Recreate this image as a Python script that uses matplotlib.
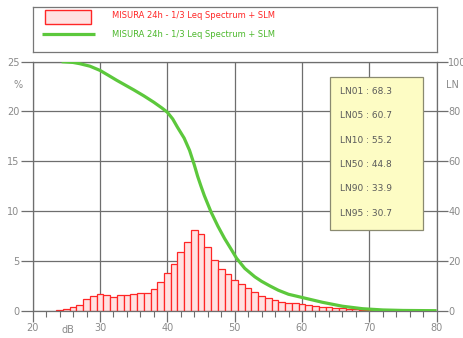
import matplotlib
matplotlib.use("Agg")
import matplotlib.pyplot as plt
from matplotlib.patches import Rectangle

# 1 dB level classes and share of time (%) spent in each class
levels = list(range(24, 75))
pct = [0.1, 0.2, 0.35, 0.6, 1.2, 1.5,
       1.63, 1.57, 1.4, 1.57, 1.57, 1.63, 1.8, 1.73,
       2.2, 2.9, 3.8, 4.7, 5.9, 6.9, 8.07, 7.73, 6.4, 5.07,
       4.2, 3.7, 3.1, 2.65, 2.3, 1.85, 1.5, 1.25, 1.05,
       0.9, 0.8, 0.73, 0.63, 0.57, 0.5, 0.4, 0.33,
       0.3, 0.25, 0.2, 0.15, 0.1, 0.08, 0.06, 0.05, 0.04, 0.03]

# exceedance curve LN (% of time above level)
ln_db = [24.3, 26.0, 27.0, 28.5, 30.0, 31.2, 32.5, 35.0, 36.5, 38.0, 39.2,
         40.0, 40.8, 41.5, 42.5, 43.3, 44.0, 44.5, 45.0, 45.5, 46.5, 47.5,
         48.5, 49.5, 50.3, 51.5, 53.0, 54.0, 55.2, 56.5, 58.0, 60.5,
         63.0, 66.0, 69.0, 72.0, 75.0, 80.0]
ln_pct = [100.0, 99.7, 99.2, 98.2, 96.5, 94.6, 92.5, 88.7, 86.3, 83.7, 81.4,
          79.7, 77.0, 73.7, 69.3, 64.4, 58.6, 54.0, 50.0, 46.2, 39.6, 34.0,
          29.0, 24.6, 21.0, 17.0, 13.6, 11.8, 10.0, 8.2, 6.6, 5.0,
          3.4, 1.8, 0.8, 0.3, 0.1, 0.0]

ln_names = ["LN01", "LN05", "LN10", "LN50", "LN90", "LN95"]
ln_values = [68.3, 60.7, 55.2, 44.8, 33.9, 30.7]

legend_label = "MISURA 24h - 1/3 Leq Spectrum + SLM"

W, H = 463, 338
grid_c = "#6e6e6e"
lab_c = "#8a8a8a"
red = "#ff2626"
green = "#5cc83c"

fig = plt.figure(figsize=(W / 100, H / 100), dpi=100)
fig.patch.set_facecolor("white")
plt.rcParams["font.family"] = ["DejaVu Sans"]

x0, x1, y0, y1 = 32.7, 436.6, 61.7, 310.7
ax = fig.add_axes([x0 / W, 1 - y1 / H, (x1 - x0) / W, (y1 - y0) / H])
ax.set_xlim(20, 80)
ax.set_ylim(0, 25)
ax.set_xticks(range(20, 81, 10))
ax.set_xticks(range(22, 80, 2), minor=True)
ax.set_yticks(range(0, 26, 5))
ax.grid(True, which="major", color=grid_c, lw=0.9)
ax.set_axisbelow(True)
for s in ax.spines.values():
    s.set_color(grid_c)
    s.set_linewidth(0.9)
ax.tick_params(axis="y", which="major", direction="out", length=9, width=0.9,
               color=grid_c, labelcolor=lab_c, labelsize=7, pad=0.5)
ax.tick_params(axis="x", which="major", direction="out", length=8, width=0.9,
               color=grid_c, labelcolor=lab_c, labelsize=7, pad=1)
ax.tick_params(axis="x", which="minor", direction="out", length=4, width=0.8,
               color=grid_c)

ax.bar(levels, pct, width=1.0, color="#ffe2e2", edgecolor=red, lw=0.9, zorder=2)

ax2 = ax.twinx()
ax2.set_ylim(0, 100)
ax2.set_yticks(range(0, 101, 20))
ax2.tick_params(axis="y", direction="out", length=8, width=0.9, color=grid_c,
                labelcolor=lab_c, labelsize=7, pad=0.5)
for s in ax2.spines.values():
    s.set_visible(False)
ax2.plot(ln_db, ln_pct, color=green, lw=2.3, solid_capstyle="butt",
         solid_joinstyle="round", zorder=3)

# statistics box
ax.add_patch(Rectangle((64.1, 8.1), 13.95, 15.4, facecolor="#fdfcc4",
                       edgecolor="#8a8a70", lw=0.9, zorder=4))
for i, (name, val) in enumerate(zip(ln_names, ln_values)):
    ax.text(65.6, 22.0 - i * 2.44, f"{name} : {val}", fontsize=6.5,
            color="#5a5a5a", va="center", ha="left", zorder=5)

# axis unit labels
fig.text(18 / W, 1 - 85 / H, "%", fontsize=7, color=lab_c, ha="center", va="center")
fig.text(452 / W, 1 - 85 / H, "LN", fontsize=7, color=lab_c, ha="center", va="center")
fig.text(68 / W, 1 - 330 / H, "dB", fontsize=7, color=lab_c, ha="center", va="center")

# legend panel
lax = fig.add_axes([33 / W, 1 - 52 / H, 404 / W, 45 / H])
lax.set_xlim(0, 404)
lax.set_ylim(45, 0)
lax.set_xticks([])
lax.set_yticks([])
for s in lax.spines.values():
    s.set_color("#777777")
    s.set_linewidth(0.9)
lax.add_patch(Rectangle((12, 3), 46, 14, facecolor="#ffe2e2", edgecolor=red, lw=1.0))
lax.plot([9, 62], [27, 27], color=green, lw=2.3, solid_capstyle="butt")
lax.text(79, 9, legend_label, fontsize=6, color=red, va="center", ha="left")
lax.text(79, 27.5, legend_label, fontsize=6, color="#4cb82c", va="center", ha="left")

fig.savefig("out.png", dpi=100)
